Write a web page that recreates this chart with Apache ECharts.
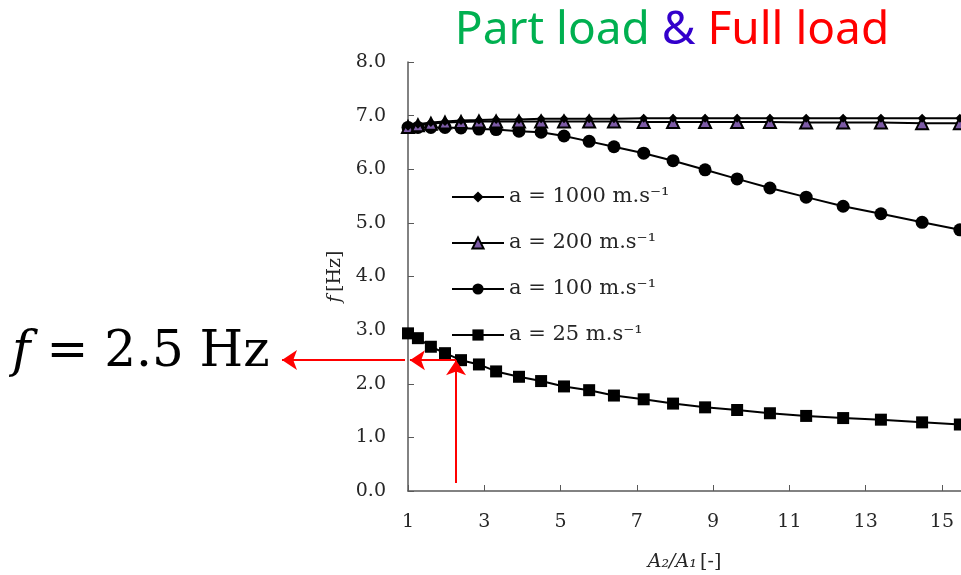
<!DOCTYPE html>
<html lang="en">
<head>
    <meta charset="UTF-8">
    <title>Part load & Full load</title>
    <script src="https://cdn.jsdelivr.net/npm/echarts@6.0.0/dist/echarts.min.js"></script>
    <style>
        body { margin: 0; background: #fff; }
        #container { width: 961px; height: 575px; }
    </style>
</head>
<body>
<div id="container"></div>
<script>
    // A2/A1 area ratios (shared by all four curves)
    var ratio = [1.00, 1.26, 1.60, 1.97, 2.39, 2.86, 3.31, 3.91, 4.49, 5.09, 5.75,
                 6.40, 7.18, 7.95, 8.79, 9.63, 10.49, 11.44, 12.41, 13.40, 14.48, 15.47];

    // frequency f [Hz] per wave speed
    var f1000 = [6.80, 6.84, 6.87, 6.89, 6.91, 6.92, 6.93, 6.93, 6.94, 6.94, 6.94,
                 6.94, 6.95, 6.95, 6.95, 6.95, 6.95, 6.95, 6.95, 6.95, 6.95, 6.95];
    var f200 = [6.79, 6.82, 6.85, 6.87, 6.88, 6.89, 6.89, 6.89, 6.89, 6.89, 6.89,
                6.89, 6.88, 6.88, 6.88, 6.88, 6.88, 6.87, 6.87, 6.87, 6.86, 6.86];
    var f100 = [6.78, 6.78, 6.78, 6.78, 6.77, 6.75, 6.74, 6.71, 6.69, 6.62, 6.52,
                6.42, 6.30, 6.16, 5.99, 5.82, 5.65, 5.48, 5.31, 5.17, 5.01, 4.87];
    var f25 = [2.94, 2.85, 2.69, 2.57, 2.44, 2.36, 2.23, 2.13, 2.05, 1.95, 1.88,
               1.78, 1.71, 1.63, 1.56, 1.51, 1.45, 1.40, 1.36, 1.33, 1.28, 1.24];

    var names = ['a = 1000 m.s\u207B\u00B9', 'a = 200 m.s\u207B\u00B9',
                 'a = 100 m.s\u207B\u00B9', 'a = 25 m.s\u207B\u00B9'];

    // operating point marked with arrows
    var pointRatio = 2.26;
    var pointF = 2.44;

    function pairs(ys) {
        var out = [];
        for (var i = 0; i < ratio.length; i++) {
            out.push([ratio[i], ys[i]]);
        }
        return out;
    }

    var serif = 'DejaVu Serif';
    var textCol = '#262626';
    var red = '#ff0000';

    var myChart = echarts.init(document.getElementById('container'));

    var titleFont = { fontSize: 46, fontFamily: 'Noto Sans', fontWeight: 'normal' };

    var options = {
        animation: false,
        title: {
            text: '{g|Part load }{b|&}{r| Full load}',
            left: 667,
            textAlign: 'center',
            top: 3,
            textStyle: {
                rich: {
                    g: echarts.util.extend({ color: '#00b050' }, titleFont),
                    b: echarts.util.extend({ color: '#3300cc' }, titleFont),
                    r: echarts.util.extend({ color: '#ff0000' }, titleFont)
                }
            }
        },
        grid: {
            left: 408,
            right: 0,
            top: 62,
            bottom: 84,
            outerBoundsMode: 'none'
        },
        legend: {
            orient: 'vertical',
            left: 446,
            top: 181,
            itemWidth: 52,
            itemHeight: 14,
            itemGap: 24,
            data: names,
            textStyle: {
                fontFamily: serif,
                fontSize: 21,
                color: textCol,
                lineHeight: 22
            }
        },
        xAxis: {
            type: 'value',
            min: 1,
            max: 15.5,
            interval: 2,
            name: '{i|A\u2082/A\u2081} {n|[-]}',
            nameLocation: 'middle',
            nameGap: 62,
            nameTextStyle: {
                rich: {
                    i: { fontFamily: serif, fontStyle: 'italic', fontSize: 19, color: textCol },
                    n: { fontFamily: serif, fontSize: 19, color: textCol }
                }
            },
            axisLine: { lineStyle: { color: '#595959', width: 1.5 } },
            axisTick: { inside: true, length: 6, lineStyle: { color: '#595959' } },
            axisLabel: {
                margin: 22,
                fontFamily: serif,
                fontSize: 19,
                color: textCol,
                showMaxLabel: false
            },
            splitLine: { show: false }
        },
        yAxis: {
            type: 'value',
            min: 0,
            max: 8,
            interval: 1,
            name: '{i|f} {n|[Hz]}',
            nameLocation: 'middle',
            nameGap: 34,
            nameTextStyle: {
                rich: {
                    i: { fontFamily: serif, fontStyle: 'italic', fontSize: 19, color: textCol },
                    n: { fontFamily: serif, fontSize: 19, color: textCol }
                }
            },
            axisLine: { show: true, lineStyle: { color: '#595959', width: 1.5 } },
            axisTick: { show: true, inside: true, length: 6, lineStyle: { color: '#595959' } },
            axisLabel: {
                margin: 22,
                fontFamily: serif,
                fontSize: 19,
                color: textCol,
                formatter: function (v) { return v.toFixed(1); }
            },
            splitLine: { show: false }
        },
        graphic: [
            {
                type: 'text',
                left: 12,
                top: 328,
                style: {
                    text: '{i|f} = 2.5 Hz',
                    fontFamily: serif,
                    fontSize: 50,
                    fill: '#000',
                    rich: {
                        i: { fontFamily: serif, fontStyle: 'italic', fontSize: 50 }
                    }
                }
            }
        ],
        series: [
            {
                name: names[0],
                type: 'line',
                data: pairs(f1000),
                symbol: 'diamond',
                symbolSize: 9,
                itemStyle: { color: '#000' },
                lineStyle: { color: '#000', width: 2 },
                z: 4
            },
            {
                name: names[1],
                type: 'line',
                data: pairs(f200),
                symbol: 'triangle',
                symbolSize: 12,
                itemStyle: { color: '#7d5ba6', borderColor: '#000', borderWidth: 2 },
                lineStyle: { color: '#000', width: 2 },
                z: 3
            },
            {
                name: names[2],
                type: 'line',
                data: pairs(f100),
                symbol: 'circle',
                symbolSize: 13,
                itemStyle: { color: '#000' },
                lineStyle: { color: '#000', width: 2 },
                z: 2
            },
            {
                name: names[3],
                type: 'line',
                data: pairs(f25),
                symbol: 'rect',
                symbolSize: 12,
                itemStyle: { color: '#000' },
                lineStyle: { color: '#000', width: 2 },
                z: 2,
                markLine: {
                    silent: true,
                    symbol: ['none', 'arrow'],
                    symbolSize: 15,
                    label: { show: false },
                    lineStyle: { color: red, width: 2, type: 'solid' },
                    data: [
                        [{ coord: [pointRatio, 0.15] }, { coord: [pointRatio, pointF] }],
                        [{ coord: [pointRatio, pointF] }, { coord: [1.05, pointF] }],
                        [{ x: 405, y: 360 }, { x: 282, y: 360 }]
                    ]
                }
            }
        ]
    };

    myChart.setOption(options);
</script>
</body>
</html>
